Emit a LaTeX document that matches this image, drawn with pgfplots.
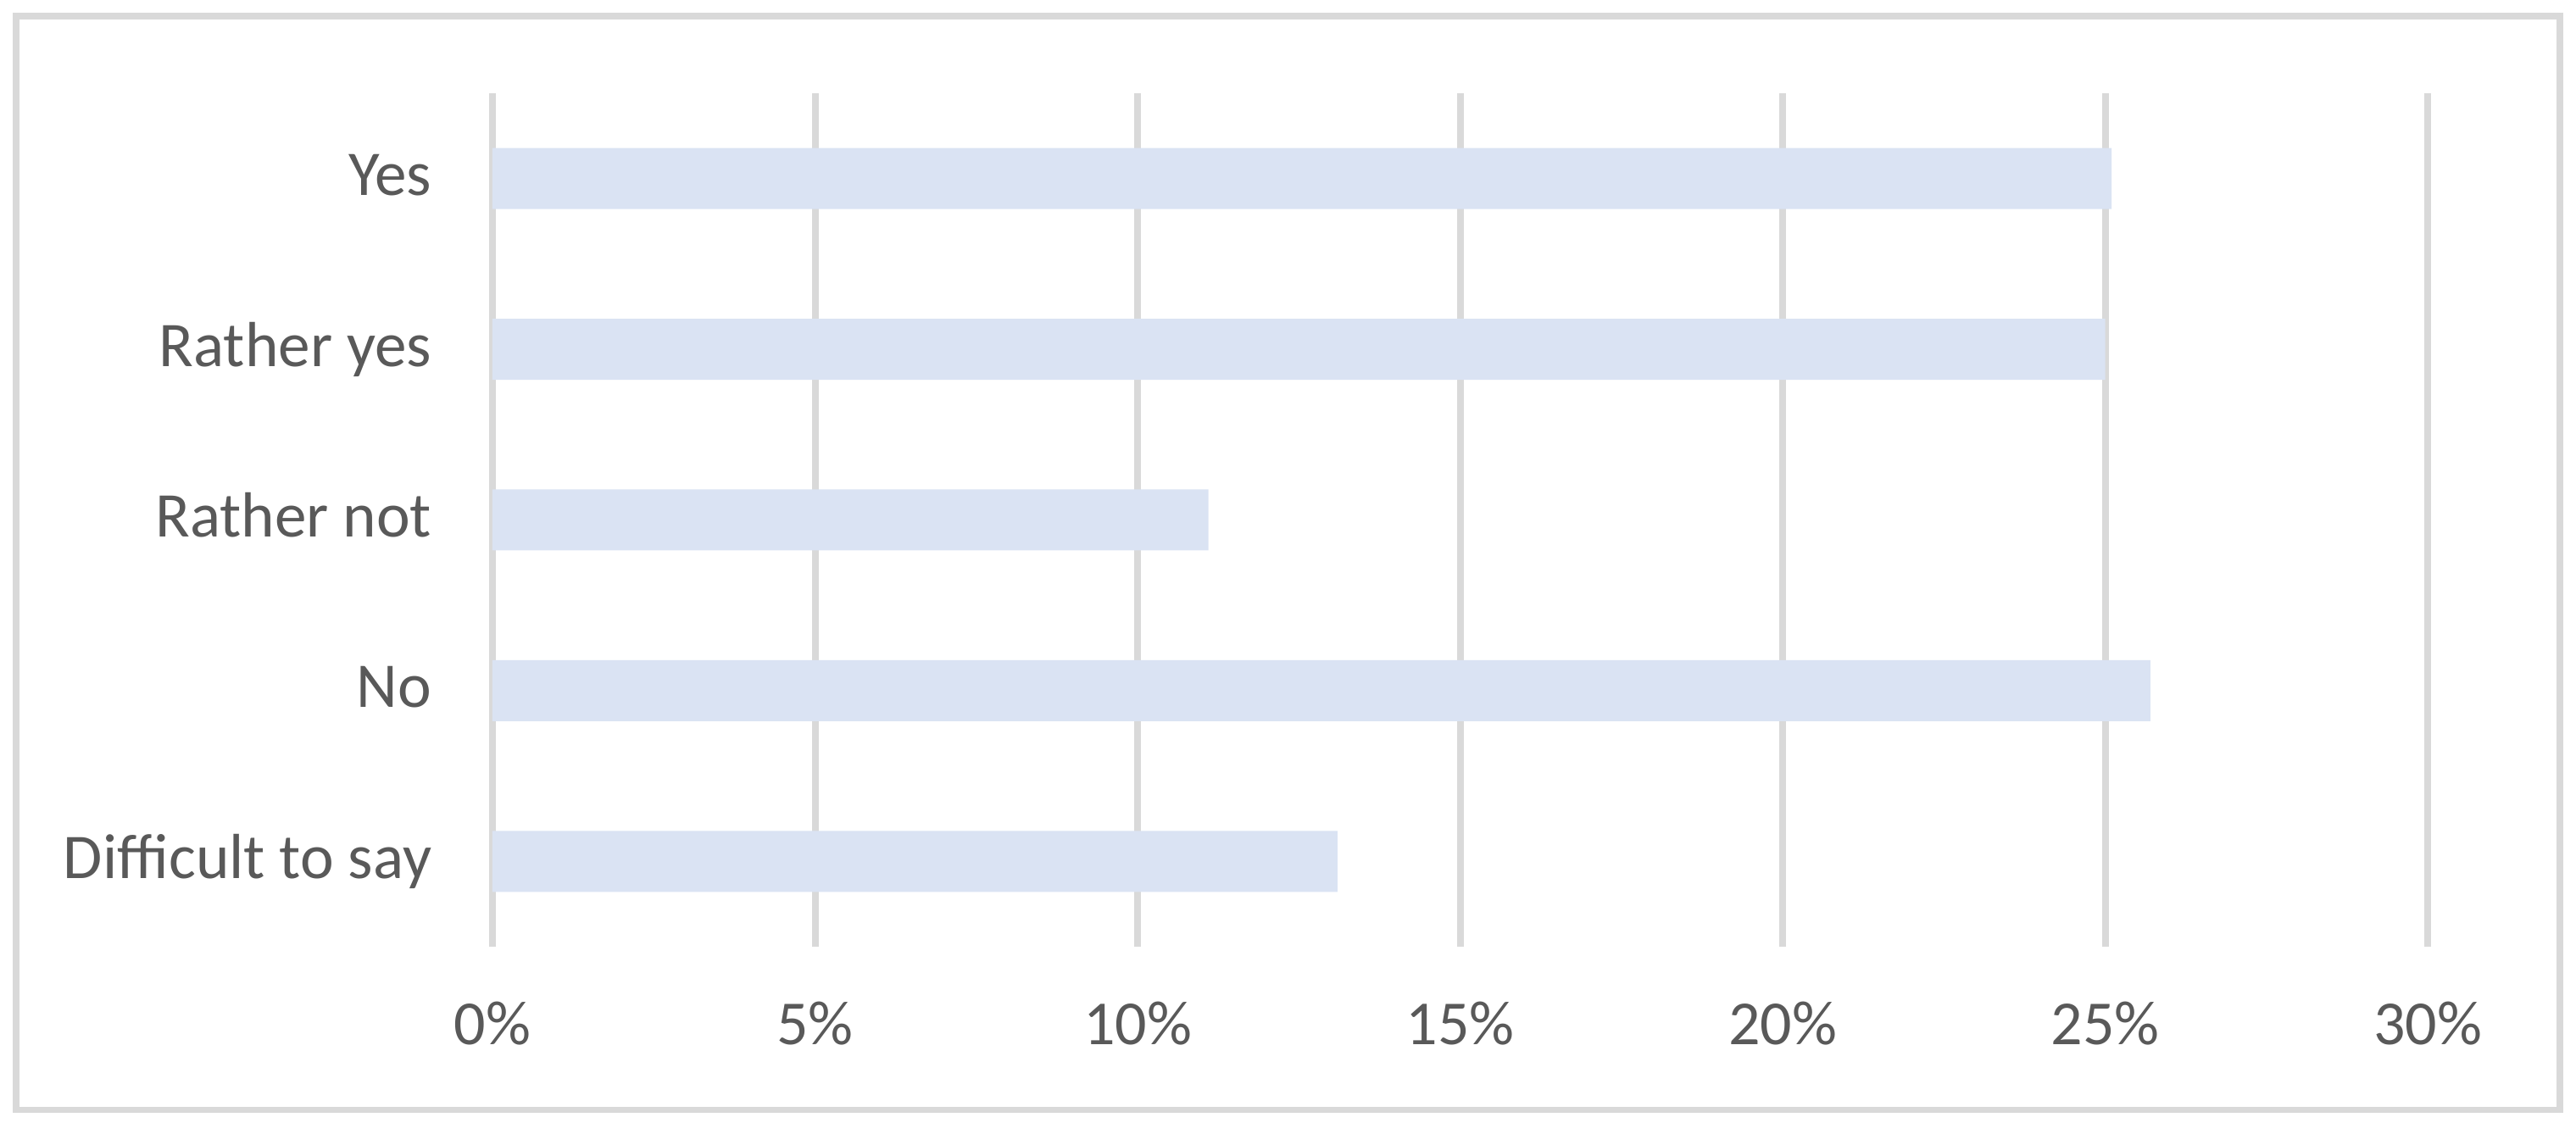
\documentclass[border=0pt]{standalone}
\usepackage{pgfplots}
\pgfplotsset{compat=1.18}
\usepackage{fontspec}
\setmainfont{Carlito}
\definecolor{barblue}{HTML}{DAE3F3}
\definecolor{gridgray}{HTML}{D9D9D9}
\definecolor{textgray}{HTML}{595959}
\begin{document}
\begin{tikzpicture}
\path[use as bounding box] (-145.25pt,-52pt) rectangle ++(759.75pt,331.25pt);
\draw[line width=1.9pt, gridgray] (-140.5pt,-48.1pt) rectangle (609.75pt,274.5pt);
\begin{axis}[
  at={(0pt,0pt)}, anchor=south west,
  scale only axis,
  width=570.75pt, height=251.75pt,
  xbar, bar width=18pt,
  xmin=0, xmax=30, ymin=0.5, ymax=5.5,
  axis line style={draw=none},
  major tick length=0pt,
  tick style={draw=none},
  xtick={0,5,10,15,20,25,30},
  xticklabels={0\%,5\%,10\%,15\%,20\%,25\%,30\%},
  ytick={1,2,3,4,5},
  yticklabels={Difficult to say,No,Rather not,Rather yes,Yes},
  xmajorgrids,
  grid style={gridgray, line width=2pt},
  tick label style={text=textgray, inner sep=0pt},
  xticklabel style={font=\fontsize{18.5}{21}\selectfont, anchor=base, yshift=-29pt},
  yticklabel style={font=\fontsize{18.8}{21}\selectfont, anchor=base east, xshift=-17.75pt, yshift=-5pt},
  clip=false,
]
\addplot[fill=barblue, draw=none] coordinates {(25.1,5) (25.0,4) (11.1,3) (25.7,2) (13.1,1)};
\end{axis}
\end{tikzpicture}
\end{document}
